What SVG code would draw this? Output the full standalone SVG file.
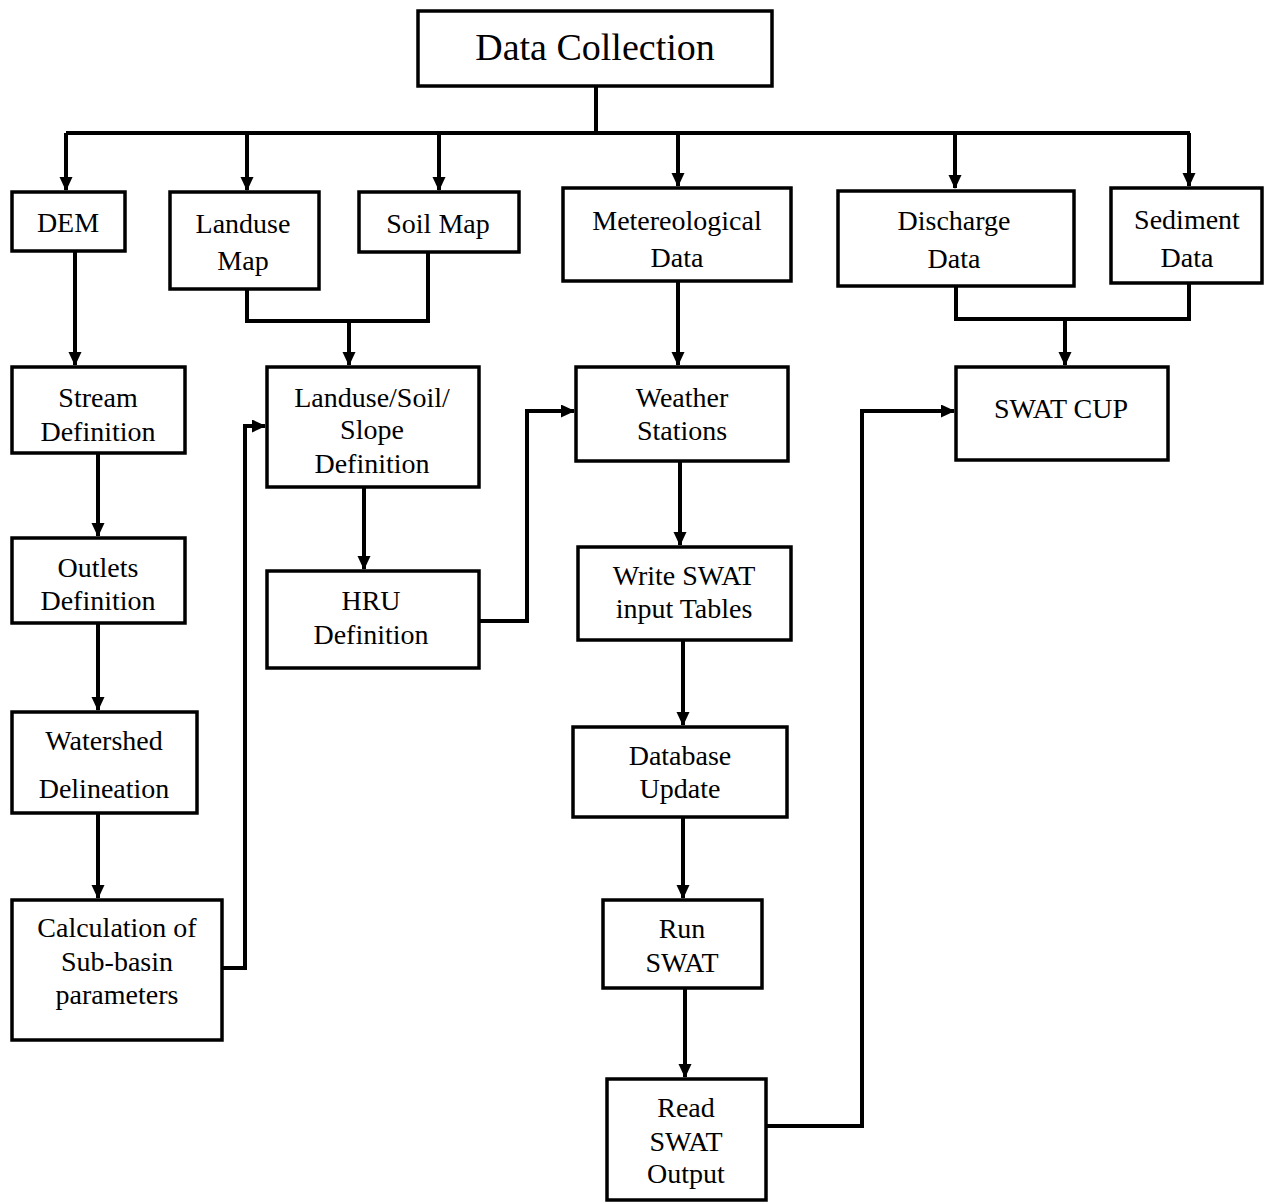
<svg xmlns="http://www.w3.org/2000/svg" width="1264" height="1203" viewBox="0 0 1264 1203">
<style>
.box{fill:#fff;stroke:#000;stroke-width:3.5}
.lbl{font-family:"Liberation Serif","Times New Roman",serif;font-size:28px;fill:#000;text-anchor:middle}
.title{font-size:38px}
.con{fill:none;stroke:#000;stroke-width:4;stroke-linejoin:miter}
</style>
<defs>
<marker id="ah" markerUnits="userSpaceOnUse" markerWidth="14" markerHeight="14" refX="13" refY="6.5" orient="auto">
<path d="M0,0 L14,6.5 L0,13 Z" fill="#000"/>
</marker>
</defs>
<rect width="1264" height="1203" fill="#fff"/>
<g id="connectors">
<path class="con" d="M596 86 V133"/>
<path class="con" d="M66 133 H1190"/>
<path class="con" d="M66 133 V190" marker-end="url(#ah)"/>
<path class="con" d="M247 133 V190" marker-end="url(#ah)"/>
<path class="con" d="M439 133 V190" marker-end="url(#ah)"/>
<path class="con" d="M678 133 V186" marker-end="url(#ah)"/>
<path class="con" d="M955 133 V188" marker-end="url(#ah)"/>
<path class="con" d="M1189 133 V186" marker-end="url(#ah)"/>
<path class="con" d="M75 252 V365" marker-end="url(#ah)"/>
<path class="con" d="M247 289 V321 H428 V252"/>
<path class="con" d="M349 321 V365" marker-end="url(#ah)"/>
<path class="con" d="M678 282 V365" marker-end="url(#ah)"/>
<path class="con" d="M956 286 V319 H1189 V284"/>
<path class="con" d="M1065 319 V365" marker-end="url(#ah)"/>
<path class="con" d="M98 453 V536" marker-end="url(#ah)"/>
<path class="con" d="M98 623 V710" marker-end="url(#ah)"/>
<path class="con" d="M98 813 V898" marker-end="url(#ah)"/>
<path class="con" d="M222 968 H245 V426 H265" marker-end="url(#ah)"/>
<path class="con" d="M364 487 V569" marker-end="url(#ah)"/>
<path class="con" d="M479 621 H527 V411 H574" marker-end="url(#ah)"/>
<path class="con" d="M680 461 V545" marker-end="url(#ah)"/>
<path class="con" d="M683 640 V725" marker-end="url(#ah)"/>
<path class="con" d="M683 817 V898" marker-end="url(#ah)"/>
<path class="con" d="M685 988 V1077" marker-end="url(#ah)"/>
<path class="con" d="M766 1126 H862 V411 H954" marker-end="url(#ah)"/>
</g>
<g id="data-collection"><rect class="box" x="418" y="11" width="354" height="75"/><text class="lbl title" x="595" y="60">Data Collection</text></g>
<g id="dem"><rect class="box" x="12" y="192" width="113" height="59"/><text class="lbl" x="68" y="232">DEM</text></g>
<g id="landuse-map"><rect class="box" x="170" y="192" width="149" height="97"/><text class="lbl" x="243" y="233">Landuse</text><text class="lbl" x="243" y="270">Map</text></g>
<g id="soil-map"><rect class="box" x="359" y="192" width="160" height="60"/><text class="lbl" x="438" y="233">Soil Map</text></g>
<g id="met-data"><rect class="box" x="563" y="188" width="228" height="93"/><text class="lbl" x="677" y="230">Metereological</text><text class="lbl" x="677" y="267">Data</text></g>
<g id="discharge-data"><rect class="box" x="838" y="191" width="236" height="95"/><text class="lbl" x="954" y="230">Discharge</text><text class="lbl" x="954" y="268">Data</text></g>
<g id="sediment-data"><rect class="box" x="1111" y="188" width="151" height="95"/><text class="lbl" x="1187" y="229">Sediment</text><text class="lbl" x="1187" y="267">Data</text></g>
<g id="stream-def"><rect class="box" x="12" y="367" width="173" height="86"/><text class="lbl" x="98" y="407">Stream</text><text class="lbl" x="98" y="441">Definition</text></g>
<g id="lss-def"><rect class="box" x="267" y="367" width="212" height="120"/><text class="lbl" x="372" y="407">Landuse/Soil/</text><text class="lbl" x="372" y="439">Slope</text><text class="lbl" x="372" y="473">Definition</text></g>
<g id="weather"><rect class="box" x="576" y="367" width="212" height="94"/><text class="lbl" x="682" y="407">Weather</text><text class="lbl" x="682" y="440">Stations</text></g>
<g id="swat-cup"><rect class="box" x="956" y="367" width="212" height="93"/><text class="lbl" x="1061" y="418">SWAT CUP</text></g>
<g id="outlets-def"><rect class="box" x="12" y="538" width="173" height="85"/><text class="lbl" x="98" y="577">Outlets</text><text class="lbl" x="98" y="610">Definition</text></g>
<g id="hru-def"><rect class="box" x="267" y="571" width="212" height="97"/><text class="lbl" x="371" y="610">HRU</text><text class="lbl" x="371" y="644">Definition</text></g>
<g id="write-swat"><rect class="box" x="578" y="547" width="213" height="93"/><text class="lbl" x="684" y="585">Write SWAT</text><text class="lbl" x="684" y="618">input Tables</text></g>
<g id="watershed"><rect class="box" x="12" y="712" width="185" height="101"/><text class="lbl" x="104" y="750">Watershed</text><text class="lbl" x="104" y="798">Delineation</text></g>
<g id="database"><rect class="box" x="573" y="727" width="214" height="90"/><text class="lbl" x="680" y="765">Database</text><text class="lbl" x="680" y="798">Update</text></g>
<g id="calc-subbasin"><rect class="box" x="12" y="900" width="210" height="140"/><text class="lbl" x="117" y="937">Calculation of</text><text class="lbl" x="117" y="971">Sub-basin</text><text class="lbl" x="117" y="1004">parameters</text></g>
<g id="run-swat"><rect class="box" x="603" y="900" width="159" height="88"/><text class="lbl" x="682" y="938">Run</text><text class="lbl" x="682" y="972">SWAT</text></g>
<g id="read-swat"><rect class="box" x="607" y="1079" width="159" height="121"/><text class="lbl" x="686" y="1117">Read</text><text class="lbl" x="686" y="1151">SWAT</text><text class="lbl" x="686" y="1183">Output</text></g>
</svg>
